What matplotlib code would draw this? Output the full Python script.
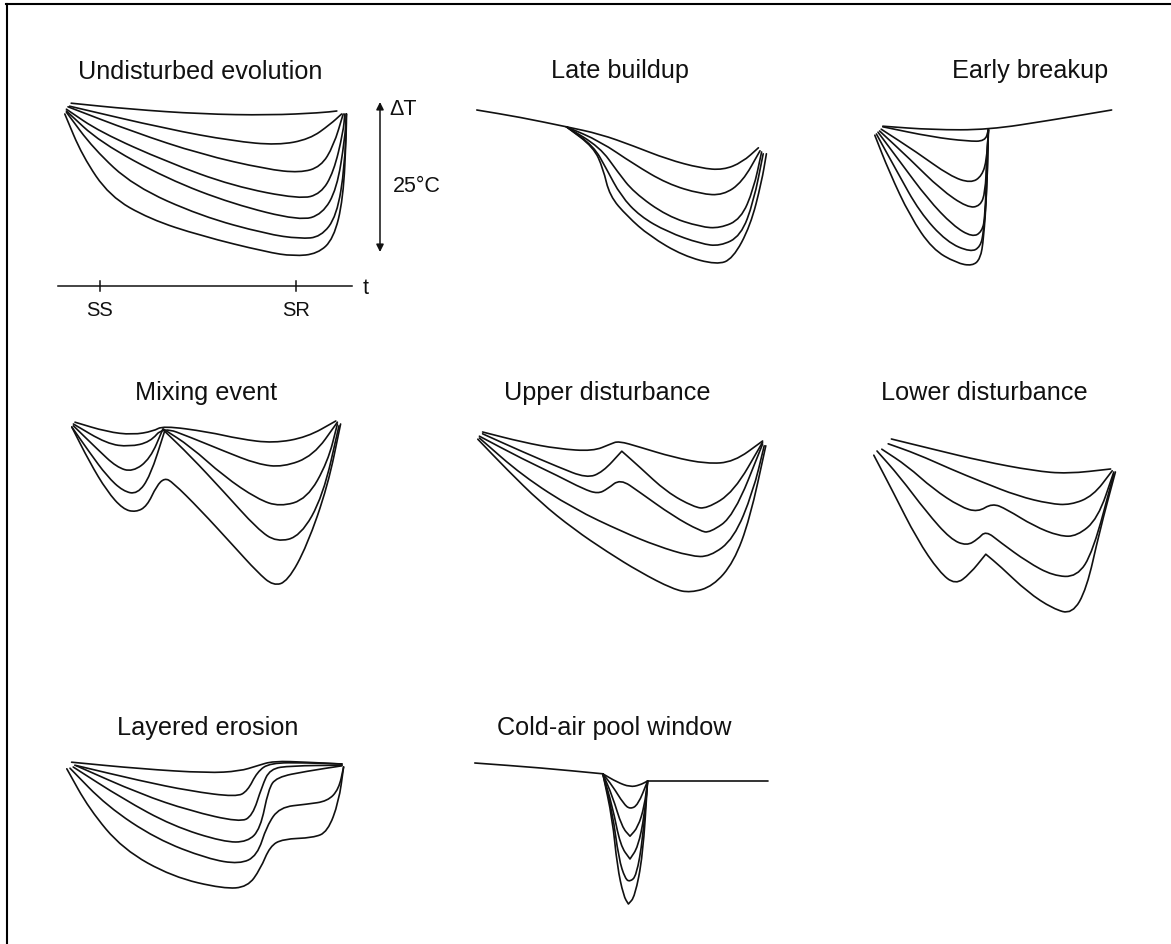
"""Schematic nocturnal temperature-deficit evolution for eight cold-air pool types."""

import math

import matplotlib

matplotlib.use("Agg")  # headless backend: write files, never open a window
import matplotlib.pyplot as plt
from matplotlib.lines import Line2D
from matplotlib.patches import PathPatch
from matplotlib.path import Path

plt.rcParams["font.family"] = ["Liberation Sans", "DejaVu Sans"]

# Canvas size in pixels (dpi 100) and the common drawing scale of every panel.
W, H = 1171, 945
PX_PER_HOUR = 16.0
PX_PER_DEG = 6.0
T_MIN, T_MAX = -3.0, 20.0     # hours after sunset
D_MIN, D_MAX = -36.0, 3.0     # temperature deficit, degC
INK = "#111111"
CORNER_DEG = 85.0             # sharper turns than this stay as corners

# Each list holds the curves of one panel: time after sunset (h) and
# temperature change relative to the start of the night (degC).
UNDISTURBED_T = [
    [-1.8, 1.9, 6.3, 10.6, 13.8, 14.8],
    [-1.9, 4.2, 8.3, 11.1, 13.1, 14.4, 15.1],
    [-2.0, 2.1, 6.3, 10.4, 12.5, 13.8, 14.6, 15.2],
    [-2.1, 0.0, 4.2, 8.3, 12.5, 13.8, 14.6, 15.2, 15.3],
    [-2.1, 0.0, 4.2, 8.3, 12.5, 13.9, 14.8, 15.3, 15.4],
    [-2.1, -0.4, 2.1, 6.3, 10.4, 12.5, 13.8, 14.8, 15.3, 15.4],
    [-2.2, -1.1, 0.6, 3.1, 6.3, 10.4, 12.1, 13.6, 14.6, 15.2, 15.4, 15.4],
]
UNDISTURBED_DT = [
    [-0.2, -1.2, -2.0, -2.2, -1.8, -1.5],
    [-0.7, -4.5, -6.5, -7.2, -6.2, -3.7, -2.0],
    [-0.8, -5.0, -8.7, -11.2, -11.8, -10.8, -7.3, -2.0],
    [-1.2, -5.0, -10.0, -14.0, -16.2, -15.3, -11.7, -5.0, -2.0],
    [-1.5, -6.7, -12.8, -17.0, -19.8, -18.7, -14.5, -6.2, -2.0],
    [-1.7, -7.8, -14.0, -19.0, -22.0, -22.8, -22.5, -19.0, -10.7, -2.0],
    [-2.0, -9.0, -15.7, -19.5, -22.3, -25.0, -25.7, -25.3, -22.8, -16.2, -5.0, -2.0],
]

LATE_T = [
    [-2.2, 0.5, 3.4],
    [3.4, 5.5, 7.6, 9.7, 11.8, 13.2, 14.4, 15.4],
    [3.4, 5.5, 7.6, 9.7, 11.8, 13.2, 14.4, 15.5],
    [3.4, 5.5, 6.6, 7.6, 9.7, 11.8, 13.0, 14.3, 15.1, 15.6],
    [3.4, 5.1, 5.9, 6.8, 8.0, 9.7, 11.8, 13.0, 14.3, 15.1, 15.7],
    [3.4, 5.1, 5.7, 6.1, 7.2, 8.6, 10.7, 12.8, 13.8, 14.9, 15.6, 15.9],
]
LATE_DT = [
    [0.0, -1.2, -2.8],
    [-2.8, -4.0, -6.0, -8.2, -9.7, -10.0, -8.7, -6.3],
    [-2.8, -5.2, -9.0, -12.3, -14.0, -14.2, -12.0, -6.8],
    [-2.8, -6.2, -10.3, -13.7, -17.7, -19.5, -19.7, -18.2, -13.2, -7.0],
    [-2.8, -6.0, -9.8, -14.3, -17.7, -20.3, -22.3, -22.7, -21.0, -15.3, -7.3],
    [-2.8, -6.2, -9.8, -14.3, -17.7, -21.0, -24.3, -25.8, -24.8, -19.3, -12.0, -7.3],
]

EARLY_T = [
    [-1.7, 1.4, 4.9, 8.8, 12.6],
    [-1.7, 1.4, 3.6, 4.7, 4.9],
    [-1.8, 0.4, 2.5, 3.8, 4.5, 4.8, 4.9],
    [-1.9, 0.0, 1.9, 3.6, 4.4, 4.7, 4.8, 4.9],
    [-2.0, -0.6, 1.1, 2.7, 3.9, 4.5, 4.7, 4.8, 4.9],
    [-2.1, -0.8, 0.6, 2.3, 3.8, 4.4, 4.6, 4.8, 4.9],
    [-2.2, -1.3, 0.0, 1.4, 2.9, 3.9, 4.4, 4.6, 4.8, 4.9],
]
EARLY_DT = [
    [-2.7, -3.3, -3.3, -1.7, 0.0],
    [-2.8, -4.5, -5.2, -5.2, -3.3],
    [-3.2, -7.0, -11.0, -12.2, -11.0, -8.2, -3.3],
    [-3.5, -8.2, -13.2, -16.3, -16.0, -13.7, -8.2, -3.3],
    [-3.7, -8.7, -14.8, -19.3, -21.2, -20.3, -17.7, -8.2, -3.3],
    [-4.0, -10.3, -17.0, -22.0, -23.7, -22.8, -20.3, -13.7, -3.3],
    [-4.2, -10.3, -17.7, -23.2, -25.5, -26.0, -24.8, -21.5, -13.7, -3.3],
]

MIXING_T = [
    [-2.0, 0.0, 1.6, 2.9, 3.5, 6.3, 8.3, 10.4, 12.5, 14.3],
    [-2.1, 0.0, 1.4, 2.7, 3.5, 5.2, 7.3, 9.4, 11.0, 12.9, 14.4],
    [-2.1, -0.6, 0.6, 1.6, 2.7, 3.5, 5.2, 7.3, 9.4, 10.8, 12.5, 13.8, 14.4],
    [-2.2, -1.1, 0.0, 1.0, 1.9, 2.7, 3.6, 5.2, 7.3, 9.4, 10.6, 12.1, 13.5, 14.5],
    [-2.2, -1.1, 0.0, 1.0, 1.8, 2.5, 3.1, 3.6, 4.1, 5.8, 7.9, 9.4, 10.4, 11.3,
     12.5, 13.8, 14.6],
]
MIXING_DT = [
    [-0.2, -1.8, -2.3, -1.7, -0.8, -1.8, -3.0, -3.7, -2.7, 0.0],
    [-0.5, -3.8, -4.3, -3.5, -1.0, -2.7, -5.0, -7.2, -7.7, -5.8, -0.2],
    [-0.8, -4.7, -7.7, -8.5, -6.3, -1.3, -4.2, -9.2, -13.0, -14.3, -13.0, -6.8, -0.5],
    [-1.0, -5.2, -9.2, -11.7, -12.2, -9.2, -1.7, -5.8, -11.8, -18.0, -20.2, -19.2,
     -12.5, -0.8],
    [-1.0, -6.8, -11.7, -14.7, -15.2, -14.2, -10.8, -9.5, -10.2, -14.7, -20.8, -25.2,
     -27.5, -26.7, -20.8, -10.8, -0.5],
]

UPPER_T = [
    [-1.9, 0.6, 2.8, 5.0, 6.1, 6.6, 7.9, 10.0, 12.1, 13.8, 15.6],
    [-1.9, 0.6, 2.8, 4.6, 5.6, 6.8, 7.9, 9.6, 11.3, 12.1, 13.8, 15.6],
    [-2.1, 0.6, 2.8, 4.4, 5.3, 5.9, 6.7, 7.9, 10.0, 11.7, 12.3, 13.8, 15.6],
    [-2.1, 0.6, 3.8, 6.9, 9.0, 11.1, 12.3, 13.8, 15.0, 15.7],
    [-2.2, -0.4, 1.7, 3.8, 5.9, 7.9, 10.0, 11.1, 12.5, 13.8, 14.8, 15.8],
]
UPPER_DT = [
    [0.0, -1.7, -2.8, -3.2, -2.0, -1.5, -2.5, -4.2, -5.3, -5.0, -1.5],
    [-0.3, -3.3, -5.8, -7.7, -6.7, -3.2, -5.8, -10.0, -12.5, -12.8, -10.0, -1.7],
    [-0.7, -4.5, -7.3, -9.5, -10.3, -9.5, -7.8, -10.0, -14.0, -16.5, -16.8, -14.0, -2.0],
    [-1.0, -7.3, -12.8, -16.7, -19.0, -20.7, -20.8, -17.8, -10.0, -2.3],
    [-1.2, -6.2, -11.7, -16.2, -20.0, -23.3, -26.2, -26.8, -25.7, -21.7, -14.5, -2.3],
]

LOWER_T = [
    [-1.1, 1.5, 4.6, 7.8, 9.9, 12.6],
    [-1.3, 0.5, 2.6, 4.6, 6.8, 8.8, 10.1, 11.5, 12.7],
    [-1.7, -0.1, 1.5, 3.2, 4.3, 5.2, 6.1, 7.8, 9.4, 10.5, 11.8, 12.8],
    [-2.0, -0.6, 1.1, 2.6, 3.6, 4.3, 4.8, 5.7, 7.4, 9.0, 10.5, 11.5, 12.8],
    [-2.2, -1.0, 0.5, 1.9, 2.9, 3.8, 4.8, 5.7, 7.4, 9.0, 10.2, 11.1, 11.9, 12.9],
]
LOWER_DT = [
    [0.0, -1.7, -3.7, -5.3, -5.8, -5.0],
    [-0.8, -2.5, -5.0, -7.2, -9.5, -10.8, -11.0, -9.5, -5.3],
    [-1.7, -4.5, -8.3, -11.3, -12.2, -10.7, -11.7, -14.5, -16.2, -16.2, -13.3, -5.5],
    [-2.0, -6.2, -12.2, -16.7, -17.8, -16.7, -15.3, -17.2, -20.5, -22.8, -23.0,
     -18.8, -5.8],
    [-2.7, -8.8, -16.7, -22.2, -24.3, -22.5, -19.2, -21.2, -25.5, -28.3, -29.2,
     -25.0, -15.5, -5.5],
]

LAYERED_T = [
    [-1.9, 2.4, 6.6, 8.6, 9.7, 10.7, 12.8, 15.0],
    [-1.7, 2.4, 5.5, 8.4, 9.1, 9.7, 10.5, 12.8, 15.0],
    [-1.6, 2.4, 5.5, 8.6, 9.4, 10.0, 10.5, 11.8, 15.0],
    [-1.8, 1.3, 4.4, 7.6, 9.1, 9.9, 10.4, 10.9, 12.8, 15.0],
    [-2.0, 0.3, 3.4, 6.6, 8.6, 9.7, 10.3, 11.1, 12.8, 14.1, 14.8, 15.1],
    [-2.2, -0.8, 1.3, 4.4, 7.6, 9.1, 9.9, 10.5, 11.3, 13.2, 14.1, 14.8, 15.1],
]
LAYERED_DT = [
    [-0.2, -1.3, -2.0, -1.7, -0.8, 0.0, -0.2, -0.5],
    [-0.7, -3.3, -5.0, -6.0, -5.0, -1.8, -0.3, -0.3, -0.5],
    [-0.8, -5.5, -8.3, -10.2, -9.2, -4.2, -1.3, -0.8, -0.7],
    [-1.0, -6.3, -10.8, -13.5, -13.5, -11.3, -4.7, -2.7, -1.7, -0.8],
    [-1.2, -7.5, -13.0, -16.3, -17.2, -15.8, -10.8, -7.7, -7.2, -6.7, -4.7, -1.0],
    [-1.3, -8.0, -14.7, -19.3, -21.3, -21.0, -18.0, -14.2, -13.0, -12.8, -11.8,
     -6.8, -1.0],
]

POOL_T = [
    [-2.2, 1.9, 5.8],
    [5.8, 6.7, 7.5, 8.1, 8.6],
    [5.8, 6.4, 7.1, 7.5, 8.0, 8.6],
    [5.8, 6.4, 7.0, 7.5, 8.0, 8.4, 8.6],
    [5.8, 6.4, 6.9, 7.5, 8.0, 8.4, 8.6],
    [5.8, 6.4, 6.8, 7.2, 7.5, 7.9, 8.3, 8.6],
    [5.8, 6.4, 6.7, 7.1, 7.4, 7.8, 8.3, 8.6],
    [8.6, 16.1],
]
POOL_DT = [
    [0.0, -0.8, -1.8],
    [-1.8, -3.2, -4.0, -3.7, -3.0],
    [-1.8, -3.8, -6.8, -7.7, -7.0, -3.0],
    [-1.8, -5.5, -10.7, -12.2, -10.7, -7.2, -3.0],
    [-1.8, -7.2, -13.8, -16.0, -14.0, -8.8, -3.0],
    [-1.8, -8.2, -16.0, -19.3, -19.8, -18.8, -12.7, -3.0],
    [-1.8, -9.3, -17.2, -22.2, -23.5, -22.3, -15.5, -3.0],
    [-3.0, -3.0],
]

# Scale bar and time axis of the first panel.
DELTA_T_SPAN = 25.0            # degC
SUNSET_H, SUNRISE_H = 0.0, 12.25

# title, curves (t, dT), panel origin in pixels, title anchor in pixels
PANELS = [
    ("Undisturbed evolution", UNDISTURBED_T, UNDISTURBED_DT, (100, 103), (200, 79)),
    ("Late buildup", LATE_T, LATE_DT, (512, 111), (620, 78)),
    ("Early breakup", EARLY_T, EARLY_DT, (910, 111), (1030, 78)),
    ("Mixing event", MIXING_T, MIXING_DT, (107, 422), (206, 400)),
    ("Upper disturbance", UPPER_T, UPPER_DT, (513, 433), (607, 400)),
    ("Lower disturbance", LOWER_T, LOWER_DT, (909, 440), (984, 400)),
    ("Layered erosion", LAYERED_T, LAYERED_DT, (102, 762), (208, 735)),
    ("Cold-air pool window", POOL_T, POOL_DT, (510, 764), (614, 735)),
]


def panel_axes(fig, x0, y0):
    """Invisible axes with the shared hour/degree scale, t=0,dT=0 at pixel (x0, y0)."""
    left = x0 + T_MIN * PX_PER_HOUR
    top = y0 - D_MAX * PX_PER_DEG
    width = (T_MAX - T_MIN) * PX_PER_HOUR
    height = (D_MAX - D_MIN) * PX_PER_DEG
    ax = fig.add_axes([left / W, 1 - (top + height) / H, width / W, height / H])
    ax.set_xlim(T_MIN, T_MAX)
    ax.set_ylim(D_MIN, D_MAX)
    ax.axis("off")
    ax.patch.set_alpha(0)
    return ax


def turn_angle(p0, p1, p2):
    """Direction change at p1, measured on screen (degrees)."""
    a1 = math.atan2((p1[1] - p0[1]) * PX_PER_DEG, (p1[0] - p0[0]) * PX_PER_HOUR)
    a2 = math.atan2((p2[1] - p1[1]) * PX_PER_DEG, (p2[0] - p1[0]) * PX_PER_HOUR)
    d = abs(math.degrees(a2 - a1)) % 360
    return min(d, 360 - d)


def midpoint(a, b):
    return (a[0] + b[0]) / 2, (a[1] + b[1]) / 2


def smooth_path(t, dt):
    """Quadratic B-spline through the sampled points; sharp kinks kept as corners."""
    pts = list(zip(t, dt))
    if len(pts) == 2:
        return Path(pts, [Path.MOVETO, Path.LINETO])
    verts = [pts[0], midpoint(pts[0], pts[1])]
    codes = [Path.MOVETO, Path.LINETO]
    for i in range(1, len(pts) - 1):
        verts += [pts[i], midpoint(pts[i], pts[i + 1])]
        if turn_angle(pts[i - 1], pts[i], pts[i + 1]) > CORNER_DEG:
            codes += [Path.LINETO, Path.LINETO]
        else:
            codes += [Path.CURVE3, Path.CURVE3]
    verts.append(pts[-1])
    codes.append(Path.LINETO)
    return Path(verts, codes)


def draw_key(ax):
    """Vertical 25 degC scale bar and the SS/SR time axis."""
    ax.annotate("", xy=(17.5, -DELTA_T_SPAN), xytext=(17.5, 0.0),
                arrowprops=dict(arrowstyle="<|-|>", color=INK, lw=1.1,
                                mutation_scale=11, shrinkA=0, shrinkB=0))
    ax.text(18.1, -1.1, "\u0394T", fontsize=15.5, ha="left", va="center", color=INK)
    ax.text(18.3, -14.0, "%d\u00b0C" % DELTA_T_SPAN, fontsize=15.5, ha="left",
            va="center", color=INK)

    y_axis = -30.7
    ax.plot([-2.6, 15.75], [y_axis, y_axis], color=INK, lw=1.1, clip_on=False)
    for t, name in [(SUNSET_H, "SS"), (SUNRISE_H, "SR")]:
        ax.plot([t, t], [y_axis + 0.9, y_axis - 0.8], color=INK, lw=1.1, clip_on=False)
        ax.text(t, -34.6, name, fontsize=14.5, ha="center", va="center", color=INK)
    ax.text(16.6, -31.0, "t", fontsize=15.5, ha="center", va="center", color=INK)


fig = plt.figure(figsize=(W / 100, H / 100), dpi=100)

# frame along the top and left edges
fig.add_artist(Line2D([6 / W, 1.0], [1 - 5 / H, 1 - 5 / H], transform=fig.transFigure,
                      color="black", lw=1.5))
fig.add_artist(Line2D([6.5 / W, 6.5 / W], [0.0, 1 - 5 / H], transform=fig.transFigure,
                      color="black", lw=1.5))

for i, (title, ts, dts, (x0, y0), (tx, ty)) in enumerate(PANELS):
    ax = panel_axes(fig, x0, y0)
    for t, dt in zip(ts, dts):
        ax.add_patch(PathPatch(smooth_path(t, dt), fill=False, edgecolor=INK, lw=1.2,
                               capstyle="round", joinstyle="round", clip_on=False))
    fig.text(tx / W, 1 - ty / H, title, fontsize=18.2, ha="center", va="baseline",
             color=INK)
    if i == 0:
        draw_key(ax)

fig.savefig("out.png", dpi=100)
